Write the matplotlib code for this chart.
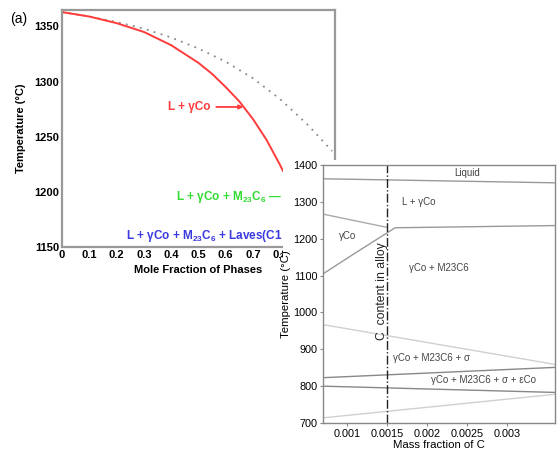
import matplotlib.pyplot as plt
from matplotlib.patches import Rectangle

plt.rcParams['font.family'] = ['Liberation Sans', 'DejaVu Sans']
plt.rcParams['mathtext.fontset'] = 'custom'
plt.rcParams['mathtext.rm'] = 'Liberation Sans'
plt.rcParams['mathtext.bf'] = 'Liberation Sans:bold'

# (a) phase fraction vs temperature
red_x = [0, 0.1, 0.2, 0.3, 0.4, 0.5, 0.55, 0.6, 0.65, 0.7, 0.75, 0.8, 0.81]
red_T = [1363, 1359, 1353, 1345, 1333, 1317, 1307, 1295, 1282, 1266, 1247, 1224, 1219]
dot_x = [0, 0.1, 0.2, 0.3, 0.4, 0.5, 0.6, 0.7, 0.8, 0.9, 0.99]
dot_T = [1363, 1359, 1354, 1348, 1340, 1330, 1318, 1303, 1284, 1261, 1237]
left_xticks = [0, 0.1, 0.2, 0.3, 0.4, 0.5, 0.6, 0.7, 0.8]
left_xlabels = ['0', '0.1', '0.2', '0.3', '0.4', '0.5', '0.6', '0.7', '0.8']
left_yticks = [1150, 1200, 1250, 1300, 1350]

# inset: isopleth vs mass fraction of C
liq_x, liq_T = [0.0007, 0.0036], [1363, 1352]
gup_x, gup_T = [0.0007, 0.0015], [1267, 1231]
solv_x, solv_T = [0.0007, 0.00107, 0.0016, 0.0036], [1105, 1157, 1230, 1236]
sig_x, sig_T = [0.0007, 0.0036], [967, 859]
lineA_x, lineA_T = [0.0007, 0.0036], [823, 851]
lineB_x, lineB_T = [0.0007, 0.0036], [800, 783]
lineC_x, lineC_T = [0.0007, 0.0036], [714, 778]
c_alloy = 0.0015
right_xticks = [0.001, 0.0015, 0.002, 0.0025, 0.003]
right_xlabels = ['0.001', '0.0015', '0.002', '0.0025', '0.003']
right_yticks = [700, 800, 900, 1000, 1100, 1200, 1300, 1400]

fig = plt.figure(figsize=(5.59, 4.5), dpi=100)

ax = fig.add_axes([0.111, 0.451, 0.488, 0.527])
ax.plot(dot_x, dot_T, color='#888888', linestyle=(0, (1, 3)), lw=1.3)
ax.plot(red_x, red_T, color='#ff3b3b', lw=1.4)
ax.set_xlim(0, 1.0)
ax.set_ylim(1150, 1365)
ax.set_xticks(left_xticks)
ax.set_xticklabels(left_xlabels)
ax.set_yticks(left_yticks)
ax.tick_params(length=0, pad=2, labelsize=8)
for lab in ax.get_xticklabels() + ax.get_yticklabels():
    lab.set_fontweight('bold')
for s in ax.spines.values():
    s.set_color('#999999')
    s.set_linewidth(1.6)
ax.set_xlabel('Mole Fraction of Phases', fontsize=8, fontweight='bold', labelpad=4)
ax.set_ylabel('Temperature (°C)', fontsize=8, fontweight='bold', labelpad=6)

ax.text(0.545, 1277, 'L + γCo', color='#ff3b3b', fontsize=8.5, fontweight='bold',
        ha='right', va='center')
ax.annotate('', xy=(0.675, 1277), xytext=(0.555, 1277),
            arrowprops=dict(arrowstyle='-|>', color='#ff3b3b', lw=1.3, mutation_scale=6))
ax.text(0.805, 1195, r'L + γCo + M$_{\mathbf{23}}$C$_{\mathbf{6}}$ —', color='#33dd33',
        fontsize=8.5, fontweight='bold', ha='right', va='center')
ax.text(0.808, 1160, r'L + γCo + M$_{\mathbf{23}}$C$_{\mathbf{6}}$ + Laves(C1', color='#3a3ae0',
        fontsize=8.5, fontweight='bold', ha='right', va='center')

fig.text(0.018, 0.95, '(a)', fontsize=10)

# white background of the inset picture
fig.patches.append(Rectangle((0.506, 0.0), 0.494, 0.644, transform=fig.transFigure,
                             facecolor='white', edgecolor='none', zorder=5))

ax2 = fig.add_axes([0.578, 0.06, 0.415, 0.573], zorder=10)
ax2.plot(liq_x, liq_T, color='#999999', lw=1)
ax2.plot(gup_x, gup_T, color='#aaaaaa', lw=1)
ax2.plot(solv_x, solv_T, color='#999999', lw=1)
ax2.plot(sig_x, sig_T, color='#d0d0d0', lw=1)
ax2.plot(lineA_x, lineA_T, color='#888888', lw=1)
ax2.plot(lineB_x, lineB_T, color='#888888', lw=1)
ax2.plot(lineC_x, lineC_T, color='#d0d0d0', lw=1)
ax2.axvline(c_alloy, color='#222222', lw=1, linestyle='-.')
ax2.set_xlim(0.0007, 0.0036)
ax2.set_ylim(700, 1400)
ax2.set_xticks(right_xticks)
ax2.set_xticklabels(right_xlabels)
ax2.set_yticks(right_yticks)
ax2.tick_params(labelsize=7.8, length=2, color='#888888', pad=2)
for s in ax2.spines.values():
    s.set_color('#888888')
    s.set_linewidth(1)
ax2.set_xlabel('Mass fraction of C', fontsize=8.2, labelpad=1)
ax2.set_ylabel('Temperature (°C)', fontsize=8.2, labelpad=2)

tc = '#444444'
fs = 7
ax2.text(0.0025, 1378, 'Liquid', fontsize=fs, color=tc, ha='center', va='center')
ax2.text(0.0019, 1300, 'L + γCo', fontsize=fs, color=tc, ha='center', va='center')
ax2.text(0.001, 1207, 'γCo', fontsize=fs, color=tc, ha='center', va='center')
ax2.text(0.00215, 1120, 'γCo + M23C6', fontsize=fs, color=tc, ha='center', va='center')
ax2.text(0.00205, 877, 'γCo + M23C6 + σ', fontsize=fs, color=tc, ha='center', va='center')
ax2.text(0.0027, 817, 'γCo + M23C6 + σ + εCo', fontsize=fs, color=tc, ha='center', va='center')
ax2.text(0.00144, 1058, 'C  content in alloy', fontsize=8.8, color='#222222', rotation=90,
         ha='center', va='center')

fig.savefig('out.png', dpi=100)
